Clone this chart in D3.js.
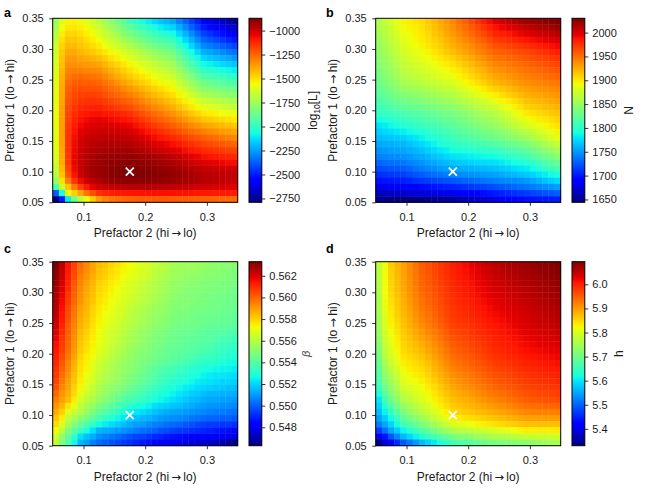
<!DOCTYPE html>
<html>
<head>
<meta charset="utf-8">
<script src="https://cdn.jsdelivr.net/npm/d3@7"></script>
<style>
body { margin: 0; background: #fff; }
</style>
</head>
<body>
<script>
var ancho = 650, alto = 500;

// centros de las celdas (eje x: Prefactor 2, eje y: Prefactor 1, de arriba a abajo)
var prefactor2 = [0.055,0.065,0.075,0.085,0.095,0.105,0.115,0.125,0.135,0.145,0.155,0.165,0.175,0.185,0.195,0.205,0.215,0.225,0.235,0.245,0.255,0.265,0.275,0.285,0.295,0.305,0.315,0.325,0.335,0.345];
var prefactor1 = [0.345,0.335,0.325,0.315,0.305,0.295,0.285,0.275,0.265,0.255,0.245,0.235,0.225,0.215,0.205,0.195,0.185,0.175,0.165,0.155,0.145,0.135,0.125,0.115,0.105,0.095,0.085,0.075,0.065,0.055];

// punto marcado con la cruz blanca [prefactor2, prefactor1]
var marcador = [0.175, 0.10];

// a: log10[L]
var logL = [
[-1760,-1600,-1550,-1540,-1550,-1590,-1630,-1680,-1740,-1790,-1850,-1900,-1960,-2010,-2060,-2100,-2140,-2180,-2200,-2230,-2300,-2360,-2430,-2490,-2560,-2600,-2640,-2670,-2710,-2750],
[-1730,-1565,-1515,-1510,-1525,-1560,-1600,-1645,-1695,-1745,-1795,-1850,-1900,-1940,-1980,-2020,-2060,-2095,-2125,-2150,-2220,-2290,-2360,-2430,-2500,-2535,-2570,-2600,-2635,-2670],
[-1700,-1530,-1480,-1480,-1500,-1530,-1565,-1605,-1650,-1700,-1745,-1795,-1840,-1880,-1920,-1955,-1990,-2020,-2045,-2070,-2140,-2210,-2285,-2360,-2430,-2460,-2495,-2525,-2560,-2590],
[-1680,-1500,-1450,-1450,-1470,-1500,-1530,-1565,-1610,-1650,-1695,-1740,-1780,-1815,-1850,-1885,-1920,-1945,-1970,-1990,-2065,-2140,-2215,-2290,-2360,-2390,-2420,-2450,-2480,-2510],
[-1650,-1475,-1420,-1420,-1445,-1470,-1495,-1525,-1565,-1600,-1640,-1680,-1715,-1750,-1785,-1820,-1850,-1875,-1900,-1920,-1995,-2070,-2145,-2220,-2290,-2315,-2340,-2370,-2395,-2420],
[-1635,-1455,-1390,-1390,-1415,-1435,-1455,-1480,-1515,-1550,-1585,-1620,-1650,-1680,-1710,-1745,-1780,-1805,-1830,-1855,-1925,-2000,-2070,-2145,-2215,-2240,-2265,-2290,-2315,-2340],
[-1625,-1440,-1360,-1360,-1380,-1395,-1410,-1430,-1465,-1500,-1530,-1565,-1600,-1630,-1660,-1690,-1720,-1750,-1775,-1800,-1870,-1935,-2005,-2075,-2145,-2170,-2190,-2215,-2235,-2260],
[-1615,-1430,-1335,-1335,-1345,-1355,-1365,-1380,-1415,-1450,-1480,-1515,-1550,-1580,-1610,-1640,-1670,-1700,-1725,-1750,-1815,-1880,-1945,-2010,-2075,-2095,-2115,-2140,-2160,-2180],
[-1610,-1415,-1310,-1300,-1305,-1315,-1320,-1330,-1365,-1400,-1435,-1465,-1500,-1530,-1560,-1590,-1620,-1650,-1675,-1700,-1760,-1820,-1885,-1945,-2005,-2025,-2045,-2060,-2080,-2100],
[-1605,-1405,-1285,-1265,-1260,-1270,-1280,-1290,-1325,-1355,-1390,-1420,-1455,-1485,-1510,-1540,-1570,-1600,-1625,-1650,-1705,-1765,-1820,-1880,-1935,-1950,-1970,-1985,-2005,-2020],
[-1600,-1395,-1260,-1235,-1230,-1235,-1240,-1250,-1280,-1310,-1345,-1375,-1405,-1435,-1460,-1490,-1520,-1550,-1575,-1600,-1655,-1705,-1760,-1810,-1865,-1880,-1895,-1915,-1930,-1945],
[-1590,-1390,-1240,-1210,-1200,-1205,-1210,-1215,-1240,-1270,-1295,-1325,-1350,-1380,-1410,-1440,-1470,-1495,-1525,-1550,-1600,-1650,-1700,-1745,-1795,-1810,-1825,-1840,-1855,-1870],
[-1590,-1385,-1225,-1190,-1175,-1175,-1175,-1180,-1205,-1230,-1250,-1275,-1300,-1330,-1360,-1390,-1420,-1445,-1475,-1500,-1545,-1590,-1635,-1680,-1725,-1740,-1755,-1770,-1785,-1800],
[-1585,-1380,-1210,-1170,-1150,-1145,-1145,-1148,-1165,-1185,-1205,-1230,-1250,-1280,-1310,-1340,-1370,-1395,-1425,-1450,-1490,-1530,-1575,-1615,-1655,-1670,-1685,-1700,-1715,-1730],
[-1580,-1370,-1190,-1150,-1125,-1115,-1110,-1110,-1125,-1140,-1160,-1180,-1200,-1230,-1260,-1290,-1320,-1345,-1375,-1400,-1435,-1475,-1510,-1550,-1585,-1600,-1615,-1630,-1645,-1660],
[-1580,-1370,-1180,-1130,-1100,-1085,-1078,-1075,-1085,-1095,-1110,-1125,-1145,-1175,-1205,-1235,-1265,-1290,-1320,-1345,-1380,-1415,-1450,-1480,-1515,-1530,-1545,-1560,-1575,-1590],
[-1580,-1365,-1170,-1115,-1080,-1060,-1050,-1045,-1050,-1060,-1070,-1080,-1095,-1125,-1155,-1185,-1215,-1240,-1265,-1290,-1320,-1350,-1385,-1415,-1445,-1460,-1475,-1490,-1505,-1520],
[-1585,-1365,-1160,-1100,-1060,-1040,-1028,-1018,-1020,-1025,-1032,-1040,-1050,-1075,-1105,-1135,-1160,-1185,-1210,-1235,-1265,-1290,-1320,-1345,-1375,-1390,-1405,-1420,-1435,-1450],
[-1590,-1365,-1155,-1085,-1040,-1018,-1005,-995,-995,-997,-1000,-1005,-1010,-1035,-1060,-1085,-1110,-1135,-1160,-1180,-1205,-1230,-1255,-1280,-1305,-1320,-1335,-1355,-1370,-1385],
[-1595,-1370,-1150,-1070,-1022,-1000,-985,-975,-973,-973,-975,-977,-980,-1000,-1020,-1045,-1065,-1085,-1105,-1125,-1150,-1170,-1195,-1215,-1240,-1255,-1270,-1290,-1305,-1320],
[-1600,-1372,-1150,-1060,-1008,-985,-970,-958,-955,-953,-953,-954,-955,-970,-985,-1005,-1020,-1040,-1055,-1075,-1095,-1115,-1135,-1160,-1180,-1195,-1210,-1220,-1235,-1250],
[-1608,-1378,-1150,-1055,-998,-972,-955,-942,-938,-934,-932,-931,-930,-942,-955,-970,-985,-1000,-1015,-1030,-1050,-1070,-1090,-1105,-1125,-1135,-1150,-1160,-1175,-1185],
[-1615,-1386,-1150,-1050,-992,-962,-942,-928,-920,-914,-910,-907,-905,-912,-922,-932,-944,-954,-965,-975,-995,-1015,-1035,-1055,-1075,-1085,-1095,-1105,-1115,-1125],
[-1630,-1395,-1160,-1050,-988,-955,-932,-918,-908,-900,-895,-891,-888,-893,-900,-908,-917,-926,-935,-945,-962,-980,-997,-1014,-1030,-1038,-1046,-1054,-1062,-1070],
[-1665,-1418,-1185,-1060,-988,-952,-928,-914,-902,-892,-885,-880,-876,-879,-884,-890,-897,-904,-912,-920,-934,-948,-962,-976,-990,-994,-998,-1002,-1006,-1010],
[-1700,-1445,-1220,-1080,-1000,-958,-932,-916,-902,-890,-881,-876,-872,-874,-877,-881,-886,-891,-896,-902,-915,-927,-940,-952,-965,-969,-973,-977,-981,-985],
[-1780,-1500,-1300,-1150,-1060,-1005,-965,-940,-925,-913,-905,-899,-895,-895,-896,-898,-901,-905,-910,-915,-924,-933,-942,-951,-960,-966,-972,-978,-984,-990],
[-1950,-1650,-1440,-1290,-1180,-1100,-1045,-1010,-993,-982,-975,-969,-965,-964,-964,-965,-967,-969,-972,-975,-982,-989,-996,-1003,-1010,-1014,-1018,-1022,-1026,-1030],
[-2380,-2050,-1560,-1460,-1380,-1280,-1200,-1140,-1115,-1102,-1095,-1090,-1085,-1082,-1080,-1078,-1076,-1075,-1075,-1075,-1078,-1081,-1084,-1087,-1090,-1092,-1094,-1096,-1098,-1100],
[-2790,-2500,-2100,-1850,-1700,-1560,-1450,-1360,-1310,-1280,-1265,-1250,-1240,-1235,-1230,-1228,-1225,-1225,-1225,-1228,-1230,-1232,-1235,-1238,-1240,-1244,-1248,-1252,-1256,-1260]
];

// b: N
var valoresN = [
[1862,1871,1879,1887,1895,1898,1902,1905,1912,1919,1926,1933,1940,1948,1956,1965,1974,1982,1990,1998,2003,2007,2012,2016,2020,2022,2024,2026,2028,2030],
[1859,1867,1875,1884,1892,1896,1899,1903,1910,1916,1923,1929,1936,1944,1951,1959,1966,1974,1981,1989,1993,1997,2001,2005,2009,2012,2014,2017,2019,2022],
[1856,1864,1872,1880,1888,1892,1896,1900,1906,1913,1919,1926,1932,1939,1946,1952,1959,1966,1973,1980,1984,1987,1991,1994,1998,2001,2004,2006,2009,2012],
[1853,1861,1869,1877,1885,1889,1894,1898,1904,1910,1915,1921,1927,1933,1940,1946,1952,1958,1965,1971,1974,1977,1981,1984,1987,1990,1993,1996,1999,2002],
[1850,1858,1866,1874,1882,1886,1891,1895,1900,1906,1911,1917,1922,1928,1933,1939,1945,1950,1956,1962,1965,1968,1970,1973,1976,1979,1982,1986,1989,1992],
[1847,1855,1862,1870,1878,1882,1886,1890,1895,1901,1906,1912,1917,1922,1928,1933,1939,1944,1950,1955,1957,1959,1962,1964,1966,1969,1973,1976,1980,1983],
[1844,1852,1859,1867,1874,1878,1882,1886,1891,1896,1900,1905,1910,1915,1921,1926,1932,1937,1943,1948,1950,1953,1955,1958,1960,1963,1966,1969,1972,1975],
[1840,1848,1855,1863,1870,1874,1877,1881,1885,1890,1894,1899,1903,1908,1914,1919,1925,1930,1936,1941,1944,1946,1949,1951,1954,1957,1960,1962,1965,1968],
[1837,1844,1851,1859,1866,1869,1873,1876,1880,1884,1888,1892,1896,1901,1907,1912,1918,1923,1929,1934,1937,1940,1942,1945,1948,1951,1953,1956,1958,1961],
[1834,1841,1848,1855,1862,1865,1869,1872,1875,1879,1882,1886,1889,1895,1900,1906,1911,1917,1922,1928,1931,1934,1937,1940,1943,1945,1947,1950,1952,1954],
[1830,1837,1844,1850,1857,1860,1863,1866,1869,1872,1875,1878,1881,1887,1893,1898,1904,1910,1915,1921,1924,1927,1931,1934,1937,1939,1941,1943,1945,1947],
[1825,1831,1837,1843,1849,1852,1854,1857,1860,1863,1866,1869,1872,1877,1883,1888,1894,1899,1905,1910,1914,1918,1922,1926,1930,1932,1934,1936,1938,1940],
[1820,1825,1830,1835,1840,1843,1845,1848,1851,1854,1857,1860,1863,1868,1873,1878,1884,1889,1894,1899,1904,1909,1913,1918,1923,1925,1927,1930,1932,1934],
[1814,1819,1823,1828,1832,1834,1837,1839,1842,1845,1848,1851,1854,1859,1864,1869,1873,1878,1883,1888,1894,1899,1905,1910,1916,1918,1921,1923,1926,1928],
[1808,1812,1816,1819,1823,1825,1828,1830,1833,1836,1839,1842,1845,1849,1854,1858,1863,1867,1872,1876,1883,1889,1896,1902,1909,1912,1914,1917,1919,1922],
[1801,1804,1807,1810,1813,1816,1818,1821,1824,1827,1830,1833,1836,1840,1844,1848,1853,1857,1861,1865,1872,1879,1886,1893,1900,1903,1906,1910,1913,1916],
[1790,1794,1797,1801,1804,1807,1810,1813,1816,1819,1823,1826,1829,1833,1837,1841,1846,1850,1854,1858,1864,1871,1877,1884,1890,1894,1898,1901,1905,1909],
[1778,1782,1787,1791,1795,1798,1802,1805,1808,1812,1815,1819,1822,1826,1830,1834,1838,1842,1846,1850,1856,1862,1868,1874,1880,1884,1889,1893,1898,1902],
[1771,1774,1777,1780,1783,1787,1791,1795,1799,1803,1807,1811,1815,1819,1822,1826,1829,1833,1836,1840,1845,1850,1856,1861,1866,1872,1878,1883,1889,1895],
[1764,1766,1768,1769,1771,1776,1780,1785,1790,1794,1799,1803,1808,1811,1814,1817,1821,1824,1827,1830,1834,1839,1843,1848,1852,1859,1865,1872,1878,1885],
[1756,1758,1759,1761,1762,1766,1771,1775,1780,1785,1790,1795,1800,1803,1805,1808,1810,1813,1815,1818,1822,1826,1830,1834,1838,1845,1852,1858,1865,1872],
[1748,1750,1752,1753,1755,1759,1762,1766,1771,1775,1780,1784,1789,1791,1793,1796,1798,1800,1802,1804,1808,1812,1816,1820,1824,1831,1838,1844,1851,1858],
[1741,1743,1745,1746,1748,1751,1755,1758,1762,1766,1770,1774,1778,1780,1781,1783,1785,1787,1788,1790,1794,1798,1802,1806,1810,1817,1823,1830,1836,1843],
[1731,1733,1735,1736,1738,1742,1745,1749,1753,1756,1760,1763,1767,1769,1770,1772,1774,1775,1777,1778,1782,1785,1789,1792,1796,1802,1809,1815,1822,1828],
[1720,1722,1724,1725,1727,1731,1736,1740,1743,1746,1750,1753,1756,1757,1759,1760,1762,1763,1765,1766,1769,1772,1776,1779,1782,1788,1794,1800,1806,1812],
[1709,1711,1713,1714,1716,1720,1724,1728,1731,1734,1736,1739,1742,1744,1746,1747,1749,1751,1752,1754,1757,1760,1762,1765,1768,1773,1778,1783,1788,1793],
[1697,1699,1700,1702,1703,1706,1710,1713,1715,1718,1720,1723,1725,1727,1730,1732,1734,1737,1739,1741,1743,1745,1746,1748,1750,1755,1760,1765,1770,1775],
[1680,1681,1682,1684,1685,1688,1692,1695,1697,1699,1701,1703,1705,1707,1710,1712,1715,1717,1720,1722,1725,1728,1731,1734,1737,1740,1743,1746,1749,1752],
[1665,1666,1667,1669,1670,1672,1673,1675,1676,1677,1678,1679,1680,1683,1686,1689,1693,1696,1699,1702,1705,1707,1710,1712,1715,1718,1720,1723,1725,1728],
[1650,1647,1645,1644,1644,1645,1646,1647,1648,1650,1652,1654,1656,1659,1662,1665,1669,1672,1676,1680,1683,1687,1690,1694,1697,1698,1699,1700,1701,1702]
];

// c: beta
var valoresBeta = [
[0.5633,0.5625,0.5614,0.5606,0.5598,0.5593,0.5588,0.5584,0.5582,0.5579,0.5577,0.5574,0.5572,0.5570,0.5568,0.5566,0.5563,0.5561,0.5559,0.5557,0.5556,0.5556,0.5555,0.5554,0.5553,0.5552,0.5552,0.5551,0.5551,0.5550],
[0.5632,0.5623,0.5613,0.5605,0.5597,0.5592,0.5588,0.5583,0.5581,0.5578,0.5576,0.5573,0.5571,0.5569,0.5567,0.5565,0.5562,0.5560,0.5558,0.5556,0.5555,0.5554,0.5554,0.5553,0.5552,0.5551,0.5551,0.5550,0.5550,0.5549],
[0.5631,0.5622,0.5612,0.5604,0.5595,0.5591,0.5586,0.5582,0.5580,0.5577,0.5575,0.5572,0.5570,0.5568,0.5566,0.5564,0.5561,0.5559,0.5557,0.5555,0.5554,0.5553,0.5552,0.5552,0.5551,0.5550,0.5550,0.5549,0.5549,0.5548],
[0.5630,0.5620,0.5611,0.5602,0.5594,0.5589,0.5585,0.5580,0.5578,0.5575,0.5573,0.5570,0.5568,0.5566,0.5564,0.5562,0.5560,0.5558,0.5556,0.5554,0.5553,0.5552,0.5551,0.5551,0.5550,0.5549,0.5549,0.5548,0.5548,0.5547],
[0.5628,0.5619,0.5610,0.5601,0.5593,0.5588,0.5584,0.5579,0.5577,0.5574,0.5572,0.5569,0.5567,0.5565,0.5563,0.5561,0.5559,0.5557,0.5555,0.5553,0.5552,0.5551,0.5550,0.5550,0.5549,0.5548,0.5548,0.5547,0.5547,0.5546],
[0.5627,0.5617,0.5608,0.5600,0.5592,0.5587,0.5583,0.5578,0.5576,0.5573,0.5571,0.5568,0.5566,0.5564,0.5562,0.5560,0.5558,0.5556,0.5554,0.5552,0.5551,0.5550,0.5549,0.5549,0.5548,0.5547,0.5547,0.5546,0.5546,0.5545],
[0.5626,0.5616,0.5607,0.5599,0.5591,0.5586,0.5582,0.5577,0.5575,0.5572,0.5570,0.5567,0.5565,0.5563,0.5561,0.5559,0.5557,0.5555,0.5553,0.5551,0.5550,0.5550,0.5549,0.5548,0.5548,0.5547,0.5546,0.5546,0.5545,0.5545],
[0.5625,0.5615,0.5605,0.5597,0.5589,0.5585,0.5580,0.5576,0.5573,0.5571,0.5568,0.5566,0.5563,0.5561,0.5559,0.5557,0.5555,0.5554,0.5552,0.5550,0.5549,0.5549,0.5548,0.5547,0.5547,0.5546,0.5546,0.5545,0.5545,0.5544],
[0.5624,0.5614,0.5604,0.5596,0.5588,0.5584,0.5579,0.5575,0.5572,0.5570,0.5567,0.5565,0.5562,0.5560,0.5558,0.5556,0.5554,0.5553,0.5551,0.5549,0.5548,0.5548,0.5547,0.5546,0.5546,0.5545,0.5545,0.5544,0.5544,0.5543],
[0.5623,0.5613,0.5603,0.5595,0.5587,0.5583,0.5578,0.5574,0.5571,0.5569,0.5566,0.5564,0.5561,0.5559,0.5557,0.5555,0.5553,0.5552,0.5550,0.5548,0.5547,0.5547,0.5546,0.5545,0.5545,0.5544,0.5544,0.5543,0.5543,0.5542],
[0.5621,0.5611,0.5601,0.5594,0.5586,0.5582,0.5577,0.5573,0.5570,0.5567,0.5565,0.5562,0.5560,0.5558,0.5556,0.5554,0.5552,0.5551,0.5549,0.5547,0.5546,0.5546,0.5545,0.5545,0.5544,0.5543,0.5542,0.5542,0.5541,0.5540],
[0.5619,0.5610,0.5601,0.5593,0.5584,0.5580,0.5576,0.5572,0.5569,0.5566,0.5564,0.5561,0.5558,0.5556,0.5554,0.5552,0.5550,0.5549,0.5547,0.5546,0.5545,0.5544,0.5544,0.5543,0.5542,0.5541,0.5540,0.5540,0.5539,0.5538],
[0.5617,0.5608,0.5600,0.5592,0.5583,0.5579,0.5575,0.5571,0.5568,0.5565,0.5563,0.5560,0.5557,0.5555,0.5553,0.5551,0.5549,0.5548,0.5546,0.5545,0.5544,0.5543,0.5542,0.5542,0.5541,0.5540,0.5539,0.5537,0.5536,0.5535],
[0.5615,0.5607,0.5599,0.5591,0.5582,0.5578,0.5574,0.5570,0.5567,0.5564,0.5562,0.5559,0.5556,0.5554,0.5552,0.5550,0.5548,0.5547,0.5545,0.5544,0.5543,0.5542,0.5541,0.5540,0.5539,0.5538,0.5537,0.5535,0.5534,0.5533],
[0.5614,0.5606,0.5598,0.5590,0.5581,0.5577,0.5573,0.5569,0.5566,0.5563,0.5560,0.5557,0.5554,0.5552,0.5550,0.5549,0.5547,0.5545,0.5544,0.5543,0.5542,0.5541,0.5540,0.5539,0.5538,0.5537,0.5535,0.5534,0.5532,0.5531],
[0.5612,0.5604,0.5596,0.5588,0.5579,0.5575,0.5571,0.5567,0.5564,0.5561,0.5558,0.5556,0.5553,0.5551,0.5549,0.5548,0.5546,0.5544,0.5543,0.5542,0.5541,0.5539,0.5538,0.5536,0.5535,0.5534,0.5533,0.5531,0.5530,0.5529],
[0.5611,0.5602,0.5594,0.5586,0.5578,0.5574,0.5569,0.5565,0.5562,0.5559,0.5557,0.5554,0.5552,0.5550,0.5548,0.5546,0.5544,0.5542,0.5541,0.5539,0.5538,0.5536,0.5535,0.5533,0.5532,0.5531,0.5530,0.5528,0.5527,0.5526],
[0.5609,0.5600,0.5593,0.5585,0.5577,0.5573,0.5568,0.5564,0.5561,0.5558,0.5556,0.5553,0.5551,0.5549,0.5546,0.5544,0.5541,0.5539,0.5537,0.5536,0.5534,0.5533,0.5531,0.5530,0.5528,0.5527,0.5526,0.5525,0.5525,0.5524],
[0.5608,0.5598,0.5591,0.5583,0.5576,0.5571,0.5567,0.5562,0.5559,0.5557,0.5554,0.5552,0.5549,0.5547,0.5544,0.5542,0.5540,0.5537,0.5535,0.5534,0.5532,0.5530,0.5528,0.5527,0.5525,0.5524,0.5523,0.5523,0.5522,0.5521],
[0.5606,0.5596,0.5589,0.5582,0.5575,0.5570,0.5566,0.5561,0.5558,0.5556,0.5553,0.5551,0.5548,0.5545,0.5543,0.5540,0.5538,0.5535,0.5533,0.5531,0.5529,0.5528,0.5526,0.5524,0.5523,0.5522,0.5521,0.5520,0.5520,0.5519],
[0.5603,0.5594,0.5588,0.5580,0.5573,0.5568,0.5563,0.5558,0.5555,0.5553,0.5550,0.5548,0.5545,0.5542,0.5540,0.5537,0.5535,0.5532,0.5530,0.5528,0.5526,0.5524,0.5523,0.5521,0.5520,0.5519,0.5518,0.5518,0.5517,0.5516],
[0.5599,0.5591,0.5586,0.5578,0.5570,0.5565,0.5561,0.5556,0.5553,0.5550,0.5547,0.5544,0.5541,0.5539,0.5536,0.5534,0.5531,0.5529,0.5527,0.5525,0.5523,0.5521,0.5519,0.5518,0.5516,0.5515,0.5515,0.5514,0.5514,0.5513],
[0.5595,0.5589,0.5584,0.5575,0.5566,0.5562,0.5557,0.5553,0.5550,0.5547,0.5543,0.5540,0.5537,0.5535,0.5533,0.5530,0.5528,0.5526,0.5524,0.5522,0.5520,0.5518,0.5516,0.5515,0.5513,0.5512,0.5512,0.5511,0.5511,0.5510],
[0.5591,0.5585,0.5577,0.5570,0.5562,0.5557,0.5553,0.5548,0.5545,0.5541,0.5538,0.5534,0.5531,0.5529,0.5527,0.5525,0.5522,0.5520,0.5519,0.5517,0.5516,0.5514,0.5513,0.5511,0.5510,0.5509,0.5509,0.5508,0.5508,0.5507],
[0.5587,0.5580,0.5569,0.5564,0.5559,0.5554,0.5548,0.5543,0.5539,0.5536,0.5532,0.5529,0.5525,0.5523,0.5521,0.5519,0.5517,0.5515,0.5513,0.5512,0.5511,0.5510,0.5509,0.5508,0.5507,0.5506,0.5505,0.5505,0.5504,0.5503],
[0.5582,0.5575,0.5562,0.5557,0.5552,0.5547,0.5542,0.5537,0.5533,0.5530,0.5526,0.5523,0.5519,0.5517,0.5515,0.5514,0.5512,0.5510,0.5509,0.5508,0.5507,0.5506,0.5504,0.5503,0.5502,0.5501,0.5501,0.5500,0.5500,0.5499],
[0.5578,0.5568,0.5557,0.5550,0.5543,0.5538,0.5532,0.5527,0.5524,0.5521,0.5519,0.5516,0.5513,0.5511,0.5510,0.5508,0.5506,0.5505,0.5503,0.5502,0.5501,0.5499,0.5498,0.5496,0.5495,0.5494,0.5494,0.5493,0.5493,0.5492],
[0.5572,0.5562,0.5548,0.5541,0.5535,0.5528,0.5522,0.5515,0.5513,0.5512,0.5510,0.5509,0.5507,0.5505,0.5503,0.5502,0.5500,0.5498,0.5497,0.5495,0.5494,0.5493,0.5492,0.5491,0.5490,0.5489,0.5488,0.5487,0.5486,0.5485],
[0.5566,0.5553,0.5543,0.5532,0.5522,0.5517,0.5513,0.5508,0.5506,0.5504,0.5502,0.5500,0.5498,0.5496,0.5495,0.5493,0.5491,0.5490,0.5488,0.5487,0.5486,0.5485,0.5484,0.5483,0.5482,0.5481,0.5480,0.5480,0.5479,0.5478],
[0.5562,0.5548,0.5537,0.5526,0.5515,0.5511,0.5506,0.5502,0.5500,0.5498,0.5496,0.5494,0.5492,0.5490,0.5488,0.5487,0.5485,0.5483,0.5482,0.5480,0.5479,0.5478,0.5477,0.5476,0.5475,0.5474,0.5472,0.5470,0.5467,0.5463]
];

// d: h
var valoresH = [
[5.771,5.820,5.860,5.878,5.895,5.913,5.932,5.950,5.960,5.970,5.980,5.990,6.000,6.008,6.016,6.024,6.032,6.040,6.047,6.055,6.059,6.063,6.067,6.071,6.075,6.079,6.083,6.086,6.090,6.094],
[5.769,5.820,5.858,5.876,5.894,5.912,5.930,5.948,5.958,5.968,5.978,5.988,5.998,6.005,6.013,6.021,6.028,6.036,6.043,6.051,6.055,6.059,6.063,6.067,6.071,6.075,6.079,6.082,6.086,6.090],
[5.766,5.820,5.856,5.874,5.893,5.911,5.928,5.946,5.956,5.966,5.976,5.986,5.996,6.003,6.010,6.017,6.024,6.032,6.039,6.046,6.050,6.054,6.058,6.062,6.066,6.070,6.074,6.078,6.082,6.086],
[5.764,5.820,5.854,5.873,5.892,5.909,5.927,5.944,5.954,5.964,5.974,5.984,5.994,6.001,6.008,6.014,6.021,6.028,6.035,6.042,6.046,6.050,6.054,6.058,6.062,6.066,6.070,6.073,6.077,6.081],
[5.762,5.820,5.852,5.871,5.891,5.908,5.924,5.941,5.951,5.961,5.971,5.981,5.991,5.998,6.005,6.011,6.018,6.024,6.031,6.037,6.041,6.045,6.049,6.053,6.057,6.061,6.065,6.069,6.073,6.077],
[5.759,5.818,5.848,5.868,5.888,5.905,5.921,5.938,5.948,5.958,5.969,5.979,5.989,5.995,6.002,6.008,6.014,6.020,6.027,6.033,6.037,6.041,6.045,6.049,6.053,6.057,6.061,6.065,6.069,6.073],
[5.757,5.814,5.844,5.864,5.884,5.900,5.917,5.933,5.944,5.955,5.965,5.976,5.986,5.992,5.998,6.004,6.010,6.016,6.022,6.028,6.032,6.036,6.040,6.045,6.049,6.053,6.057,6.061,6.065,6.069],
[5.755,5.810,5.840,5.860,5.880,5.896,5.912,5.928,5.939,5.950,5.961,5.972,5.983,5.989,5.994,6.000,6.006,6.011,6.017,6.023,6.027,6.032,6.036,6.041,6.045,6.049,6.053,6.057,6.061,6.065],
[5.753,5.806,5.836,5.856,5.876,5.892,5.907,5.923,5.934,5.946,5.957,5.969,5.980,5.985,5.991,5.996,6.002,6.007,6.013,6.018,6.023,6.027,6.032,6.036,6.041,6.045,6.049,6.053,6.057,6.061],
[5.751,5.802,5.832,5.852,5.872,5.887,5.903,5.918,5.930,5.942,5.953,5.965,5.977,5.982,5.987,5.992,5.998,6.003,6.008,6.013,6.018,6.023,6.027,6.032,6.037,6.041,6.045,6.049,6.053,6.057],
[5.747,5.797,5.827,5.847,5.867,5.882,5.896,5.911,5.923,5.935,5.948,5.960,5.972,5.977,5.982,5.987,5.993,5.998,6.003,6.008,6.013,6.018,6.023,6.028,6.033,6.037,6.041,6.044,6.048,6.052],
[5.739,5.791,5.821,5.842,5.862,5.875,5.889,5.902,5.915,5.927,5.940,5.952,5.965,5.971,5.976,5.982,5.988,5.993,5.999,6.004,6.009,6.014,6.018,6.023,6.028,6.032,6.035,6.039,6.042,6.046],
[5.731,5.785,5.815,5.836,5.857,5.869,5.881,5.893,5.906,5.919,5.932,5.945,5.958,5.964,5.970,5.976,5.982,5.988,5.994,6.000,6.005,6.009,6.014,6.018,6.023,6.026,6.030,6.033,6.037,6.040],
[5.723,5.779,5.809,5.831,5.852,5.863,5.873,5.884,5.897,5.911,5.924,5.938,5.951,5.957,5.964,5.970,5.977,5.983,5.990,5.996,6.000,6.005,6.009,6.014,6.018,6.021,6.025,6.028,6.031,6.034],
[5.714,5.773,5.803,5.825,5.847,5.856,5.866,5.875,5.889,5.903,5.916,5.930,5.944,5.951,5.958,5.964,5.971,5.978,5.985,5.992,5.996,6.000,6.005,6.009,6.013,6.016,6.019,6.022,6.025,6.028],
[5.706,5.764,5.794,5.817,5.840,5.849,5.857,5.866,5.880,5.894,5.908,5.922,5.936,5.943,5.950,5.957,5.964,5.972,5.979,5.986,5.990,5.994,5.998,6.002,6.006,6.009,6.012,6.015,6.018,6.021],
[5.696,5.752,5.782,5.807,5.831,5.840,5.848,5.857,5.871,5.885,5.899,5.913,5.927,5.934,5.941,5.949,5.956,5.963,5.971,5.978,5.982,5.986,5.991,5.995,5.999,6.002,6.005,6.008,6.011,6.014],
[5.686,5.740,5.770,5.796,5.822,5.831,5.839,5.848,5.862,5.876,5.890,5.904,5.918,5.925,5.933,5.940,5.948,5.955,5.963,5.970,5.974,5.979,5.983,5.988,5.992,5.995,5.998,6.001,6.004,6.007],
[5.676,5.728,5.758,5.786,5.813,5.822,5.830,5.839,5.853,5.867,5.881,5.895,5.909,5.916,5.924,5.932,5.939,5.947,5.954,5.962,5.967,5.971,5.976,5.980,5.985,5.988,5.991,5.994,5.997,6.000],
[5.665,5.716,5.746,5.775,5.804,5.813,5.821,5.830,5.844,5.858,5.872,5.886,5.900,5.908,5.915,5.923,5.931,5.939,5.946,5.954,5.959,5.964,5.968,5.973,5.978,5.981,5.984,5.987,5.990,5.993],
[5.650,5.700,5.732,5.762,5.792,5.801,5.811,5.820,5.834,5.848,5.862,5.876,5.890,5.898,5.906,5.913,5.921,5.929,5.936,5.944,5.949,5.954,5.960,5.965,5.970,5.973,5.976,5.979,5.982,5.985],
[5.625,5.680,5.716,5.746,5.776,5.787,5.799,5.810,5.824,5.838,5.852,5.866,5.880,5.887,5.895,5.902,5.910,5.917,5.925,5.932,5.938,5.943,5.949,5.954,5.960,5.963,5.966,5.969,5.972,5.975],
[5.600,5.660,5.700,5.730,5.760,5.773,5.787,5.800,5.814,5.828,5.842,5.856,5.870,5.877,5.884,5.891,5.899,5.906,5.913,5.920,5.926,5.932,5.938,5.944,5.950,5.953,5.956,5.959,5.962,5.965],
[5.584,5.634,5.672,5.704,5.736,5.752,5.768,5.784,5.799,5.814,5.830,5.845,5.860,5.866,5.873,5.879,5.885,5.891,5.898,5.904,5.910,5.916,5.922,5.928,5.934,5.936,5.939,5.941,5.943,5.945],
[5.568,5.608,5.644,5.678,5.712,5.731,5.749,5.768,5.784,5.800,5.817,5.833,5.850,5.855,5.861,5.866,5.872,5.877,5.883,5.888,5.894,5.900,5.906,5.912,5.918,5.919,5.921,5.922,5.924,5.925],
[5.547,5.580,5.615,5.650,5.685,5.705,5.725,5.745,5.762,5.779,5.796,5.813,5.830,5.835,5.841,5.846,5.852,5.857,5.863,5.868,5.873,5.879,5.884,5.890,5.895,5.896,5.897,5.898,5.899,5.900],
[5.520,5.550,5.585,5.620,5.655,5.673,5.692,5.710,5.728,5.746,5.764,5.782,5.800,5.806,5.813,5.819,5.826,5.832,5.839,5.845,5.850,5.855,5.860,5.865,5.870,5.870,5.870,5.870,5.870,5.870],
[5.470,5.510,5.550,5.580,5.610,5.632,5.653,5.675,5.692,5.709,5.726,5.743,5.760,5.766,5.771,5.777,5.783,5.789,5.794,5.800,5.806,5.812,5.818,5.824,5.830,5.831,5.832,5.833,5.834,5.835],
[5.410,5.440,5.490,5.528,5.565,5.587,5.608,5.630,5.646,5.662,5.678,5.694,5.710,5.717,5.724,5.731,5.739,5.746,5.753,5.760,5.764,5.768,5.772,5.776,5.780,5.782,5.784,5.786,5.788,5.790],
[5.330,5.390,5.420,5.455,5.490,5.515,5.540,5.565,5.584,5.603,5.622,5.641,5.660,5.667,5.674,5.681,5.689,5.696,5.703,5.710,5.713,5.716,5.719,5.722,5.725,5.731,5.737,5.743,5.749,5.755]
];

// marcas de los ejes y de las barras de color
var ticksX = [0.1, 0.2, 0.3];
var ticksY = [0.05, 0.10, 0.15, 0.20, 0.25, 0.30, 0.35];
var ticksLogL = [-1000, -1250, -1500, -1750, -2000, -2250, -2500, -2750];
var ticksN = [1650, 1700, 1750, 1800, 1850, 1900, 1950, 2000];
var ticksBeta = [0.548, 0.550, 0.552, 0.554, 0.556, 0.558, 0.560, 0.562];
var ticksH = [5.4, 5.5, 5.6, 5.7, 5.8, 5.9, 6.0];

var fuente = "'Liberation Sans', Arial, Helvetica, sans-serif";

// mapa de colores "jet" (canales por tramos)
var jetR = d3.scaleLinear().domain([0, 0.35, 0.66, 0.89, 1]).range([0, 0, 1, 1, 0.5]).clamp(true);
var jetG = d3.scaleLinear().domain([0, 0.125, 0.375, 0.64, 0.91, 1]).range([0, 0, 1, 1, 0, 0]).clamp(true);
var jetB = d3.scaleLinear().domain([0, 0.11, 0.34, 0.65, 1]).range([0.5, 1, 1, 0, 0]).clamp(true);
function jet(t) {
  return d3.rgb(255 * jetR(t), 255 * jetG(t), 255 * jetB(t)).formatHex();
}

// texto con flecha larga (la flecha se dibuja con DejaVu Sans)
function textoFlecha(sel, antes, despues) {
  sel.append("tspan").text(antes);
  sel.append("tspan")
    .attr("font-family", "'DejaVu Sans', sans-serif")
    .attr("font-size", 11.5)
    .attr("dx", 2.2)
    .text("→");
  sel.append("tspan").attr("dx", 2.2).text(despues);
}

//Creación del svg principal
var svg = d3.select("body")
  .append("svg")
  .attr("width", ancho)
  .attr("height", alto);

var defs = svg.append("defs");

var paneles = [
  {letra: "a", izq: 52.7, arriba: 18.3, datos: logL, ticks: ticksLogL, formato: d3.format("d"), etiqueta: "logL", etiquetaX: 264},
  {letra: "b", izq: 375.7, arriba: 18.3, datos: valoresN, ticks: ticksN, formato: d3.format("d"), etiqueta: "N", etiquetaX: 257},
  {letra: "c", izq: 52.7, arriba: 261.7, datos: valoresBeta, ticks: ticksBeta, formato: d3.format(".3f"), etiqueta: "β", etiquetaX: 257},
  {letra: "d", izq: 375.7, arriba: 261.7, datos: valoresH, ticks: ticksH, formato: d3.format(".1f"), etiqueta: "h", etiquetaX: 247}
];

var anchoPanel = 185, altoPanel = 184;
var cbX = 196.3, cbAncho = 12.8;

paneles.forEach(function(p, k) {
  var g = svg.append("g")
    .attr("transform", "translate(" + p.izq + "," + p.arriba + ")");

  var escalaX = d3.scaleLinear().domain([0.05, 0.35]).range([0, anchoPanel]);
  var escalaY = d3.scaleLinear().domain([0.05, 0.35]).range([altoPanel, 0]);

  // el rango de color va del mínimo al máximo de los datos
  var extremos = d3.extent(p.datos.flat());
  var escalaT = d3.scaleLinear().domain(extremos).range([0, 1]);

  var celdas = [];
  p.datos.forEach(function(fila, i) {
    fila.forEach(function(v, j) {
      celdas.push({x: prefactor2[j], y: prefactor1[i], v: v});
    });
  });

  var medioX = (prefactor2[1] - prefactor2[0]) / 2;
  var medioY = (prefactor1[0] - prefactor1[1]) / 2;
  var wCelda = escalaX(prefactor2[1]) - escalaX(prefactor2[0]);
  var hCelda = escalaY(prefactor1[1]) - escalaY(prefactor1[0]);

  g.selectAll("rect.celda")
    .data(celdas)
    .enter()
    .append("rect")
    .attr("class", "celda")
    .attr("x", function(d) { return escalaX(d.x - medioX); })
    .attr("y", function(d) { return escalaY(d.y + medioY); })
    .attr("width", wCelda + 0.4)
    .attr("height", hCelda + 0.4)
    .attr("fill", function(d) { return jet(escalaT(d.v)); });

  // cruz blanca
  g.append("path")
    .attr("d", "M-4,-4L4,4M-4,4L4,-4")
    .attr("transform", "translate(" + escalaX(marcador[0]) + "," + escalaY(marcador[1]) + ")")
    .attr("stroke", "#fff")
    .attr("stroke-width", 1.8)
    .attr("fill", "none");

  // marco
  g.append("rect")
    .attr("width", anchoPanel)
    .attr("height", altoPanel)
    .attr("fill", "none")
    .attr("stroke", "#000")
    .attr("stroke-width", 1);

  // ejes
  var ejeX = g.append("g")
    .attr("transform", "translate(0," + altoPanel + ")")
    .call(d3.axisBottom(escalaX).tickValues(ticksX).tickFormat(d3.format(".1f")).tickSize(3.5).tickPadding(7.5));
  var ejeY = g.append("g")
    .call(d3.axisLeft(escalaY).tickValues(ticksY).tickFormat(d3.format(".2f")).tickSize(3.5).tickPadding(5.5));

  [ejeX, ejeY].forEach(function(e) {
    e.select(".domain").remove();
    e.attr("font-family", fuente).attr("font-size", 11);
    e.selectAll("text").attr("fill", "#1a1a1a");
    e.selectAll("line").attr("stroke-width", 0.8);
  });

  var tituloX = g.append("text")
    .attr("x", anchoPanel / 2)
    .attr("y", altoPanel + 35)
    .attr("text-anchor", "middle")
    .attr("font-family", fuente)
    .attr("font-size", 12)
    .attr("fill", "#1a1a1a");
  textoFlecha(tituloX, "Prefactor 2 (hi", "lo)");

  var tituloY = g.append("text")
    .attr("transform", "translate(-38.7," + altoPanel / 2 + ") rotate(-90)")
    .attr("text-anchor", "middle")
    .attr("font-family", fuente)
    .attr("font-size", 12)
    .attr("fill", "#1a1a1a");
  textoFlecha(tituloY, "Prefactor 1 (lo", "hi)");

  // letra del panel
  g.append("text")
    .attr("x", (k % 2 == 0 ? 4 : 326) - p.izq)
    .attr("y", (k < 2 ? 17 : 253) - p.arriba)
    .attr("font-family", fuente)
    .attr("font-size", 12.5)
    .attr("font-weight", "bold")
    .attr("fill", "#000")
    .text(p.letra);

  // barra de color
  var grad = defs.append("linearGradient")
    .attr("id", "grad" + k)
    .attr("x1", 0).attr("y1", 1).attr("x2", 0).attr("y2", 0);
  grad.selectAll("stop")
    .data(d3.range(0, 1.0001, 0.01))
    .enter()
    .append("stop")
    .attr("offset", function(d) { return d; })
    .attr("stop-color", function(d) { return jet(d); });

  var cb = g.append("g").attr("transform", "translate(" + cbX + ",0)");
  cb.append("rect")
    .attr("width", cbAncho)
    .attr("height", altoPanel)
    .attr("fill", "url(#grad" + k + ")")
    .attr("stroke", "#000")
    .attr("stroke-width", 1);

  var escalaCb = d3.scaleLinear().domain(extremos).range([altoPanel, 0]);
  var ejeCb = cb.append("g")
    .attr("transform", "translate(" + cbAncho + ",0)")
    .call(d3.axisRight(escalaCb).tickValues(p.ticks).tickFormat(p.formato).tickSize(3.5).tickPadding(4));
  ejeCb.select(".domain").remove();
  ejeCb.attr("font-family", fuente).attr("font-size", 11);
  ejeCb.selectAll("text").attr("fill", "#1a1a1a");
  ejeCb.selectAll("line").attr("stroke-width", 0.8);

  var etiqueta = g.append("text")
    .attr("transform", "translate(" + p.etiquetaX + "," + altoPanel / 2 + ") rotate(-90)")
    .attr("text-anchor", "middle")
    .attr("font-family", fuente)
    .attr("font-size", 12)
    .attr("fill", "#1a1a1a");
  if (p.etiqueta == "logL") {
    etiqueta.append("tspan").text("log");
    etiqueta.append("tspan").attr("font-size", 8.5).attr("dy", 3).text("10");
    etiqueta.append("tspan").attr("dy", -3).text("[L]");
  } else if (p.etiqueta == "β") {
    etiqueta.attr("font-style", "italic").attr("fill", "#555").attr("font-family", "'DejaVu Sans', sans-serif").attr("font-size", 11).text(p.etiqueta);
  } else {
    etiqueta.text(p.etiqueta);
  }
});
</script>
</body>
</html>
